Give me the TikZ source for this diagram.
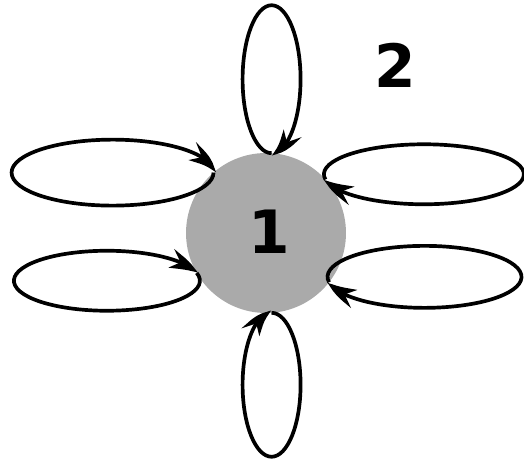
\documentclass[tikz,border=0pt]{standalone}
\usepackage{fontspec}
\newfontfamily\digitfont{DejaVu Sans}
\usetikzlibrary{arrows.meta, bending, positioning, calc}

\definecolor{discgray}{RGB}{170,170,170}

\begin{document}
\begin{tikzpicture}[x=0.02cm, y=0.02cm,
    loopline/.style={line width=2.1pt, black, -{Stealth[length=14pt, width=11pt, inset=4pt, bend]}},
    bignum/.style={font=\digitfont\bfseries\fontsize{34}{38}\selectfont}]
    \useasboundingbox (0, 0) rectangle (524, 463);

    % Region 1
    \node[circle, fill=discgray, minimum size=3.2cm, inner sep=0pt, outer sep=0pt] (n1) at (266, 230) {};
    \node[bignum] (lab1) at (269, 231) {1};

    % Region 2
    \node[bignum] (lab2) at (395, 398) {2};

    % touch points of the loops
    \coordinate (ttop) at (n1.86);
    \coordinate (tlu) at (n1.131);
    \coordinate (tll) at (n1.210);
    \coordinate (tru) at (n1.42);
    \coordinate (trl) at (n1.-38);
    \coordinate (tbot) at (n1.-86);

    % loops, all clockwise
    \draw[loopline] (ttop) arc[start angle=270, end angle=-90, x radius=0.58cm, y radius=1.48cm];
    \draw[loopline] (tlu) arc[start angle=0, end angle=-360, x radius=2.02cm, y radius=0.66cm];
    \draw[loopline] (tll) arc[start angle=15, end angle=-345, x radius=1.86cm, y radius=0.6cm];
    \draw[loopline] (tru) arc[start angle=190, end angle=-170, x radius=2.0cm, y radius=0.6cm];
    \draw[loopline] (trl) arc[start angle=190, end angle=-170, x radius=1.94cm, y radius=0.62cm];
    \draw[loopline] (tbot) arc[start angle=90, end angle=-270, x radius=0.58cm, y radius=1.44cm];

\end{tikzpicture}
\end{document}
